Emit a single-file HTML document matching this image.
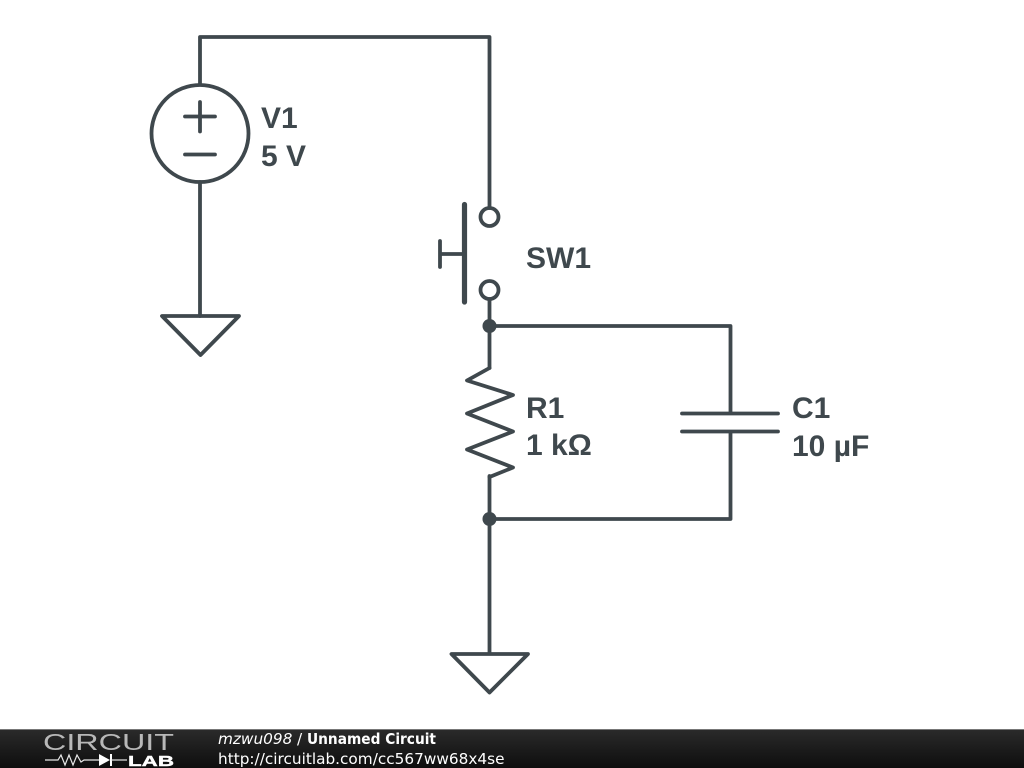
<!DOCTYPE html>
<html>
<head>
<meta charset="utf-8">
<style>
html,body{margin:0;padding:0;background:#fff;width:1024px;height:768px;overflow:hidden}
svg{display:block}
.l{font-family:"Liberation Sans",Arial,sans-serif;font-weight:bold;font-size:30px;fill:#3f484d}
.f{font-family:"DejaVu Sans",sans-serif;font-size:15.3px;fill:#fff}
</style>
</head>
<body>
<svg width="1024" height="768" viewBox="0 0 1024 768" xmlns="http://www.w3.org/2000/svg">
<defs>
<linearGradient id="g" x1="0" y1="0" x2="0" y2="1">
<stop offset="0" stop-color="#2b2b2b"/>
<stop offset="0.5" stop-color="#1c1c1c"/>
<stop offset="1" stop-color="#0e0e0e"/>
</linearGradient>
</defs>
<rect width="1024" height="768" fill="#fff"/>
<g fill="none" stroke="#3f484d" stroke-width="3.8" stroke-linecap="round" stroke-linejoin="round">
<!-- V1 -->
<path d="M200 84V37H489.500V208"/>
<circle cx="200" cy="133.500" r="48.500"/>
<path d="M200 102V131.500M185 116.500H215M185 154.500H215"/>
<path d="M200 182V316"/>
<path d="M162 316H239L200.500 355Z"/>
<!-- SW1 -->
<circle cx="489.500" cy="217" r="9"/>
<circle cx="489.500" cy="290" r="9"/>
<path d="M464.500 204.500V302" stroke-width="5.200"/>
<path d="M440 241V267M440 254H464"/>
<path d="M489.500 299V368"/>
<!-- wires -->
<path d="M489.500 326H730.500V413"/>
<path d="M730.500 432V519H489.500"/>
<path d="M489.500 476V653"/>
<!-- R1 -->
<path d="M489.500 368L467 380.500L513 395L467 413.500L513 431.500L467 449.500L513 467.500L489.500 477"/>
<!-- C1 -->
<path d="M682 413.500H778M682 431.500H778"/>
<!-- GND -->
<path d="M451.500 654H528L489.500 692.500Z"/>
</g>
<circle cx="489.500" cy="326" r="7" fill="#3f484d"/>
<circle cx="489.500" cy="519" r="7" fill="#3f484d"/>
<text class="l" x="261" y="128">V1</text>
<text class="l" x="261" y="166">5 V</text>
<text class="l" x="526" y="268">SW1</text>
<text class="l" x="526" y="418">R1</text>
<text class="l" x="526" y="455">1 kΩ</text>
<text class="l" x="792" y="418">C1</text>
<text class="l" x="792" y="456">10 µF</text>
<!-- footer -->
<rect x="0" y="729" width="1024" height="39" fill="url(#g)"/>
<rect x="0" y="729" width="1024" height="1" fill="#777"/>
<text x="43" y="750" font-family="'Liberation Sans',sans-serif" font-size="23.500" fill="#b8b8b8" textLength="131" lengthAdjust="spacingAndGlyphs">CIRCUIT</text>
<path d="M45 760H58L61 755L65 765L69 755L73 765L77 755L81 762L84 760H99" fill="none" stroke="#e8e8e8" stroke-width="1.200"/>
<path d="M99 754V766L110 760Z" fill="#fff"/>
<path d="M111 754V766" stroke="#fff" stroke-width="2"/>
<path d="M111 760H127" stroke="#e8e8e8" stroke-width="1.200"/>
<text x="128" y="766" font-family="'Liberation Sans',sans-serif" font-weight="bold" font-size="15" fill="#fff" stroke="#fff" stroke-width="0.400" textLength="46" lengthAdjust="spacingAndGlyphs">LAB</text>
<text class="f" x="218" y="744" font-style="italic">mzwu098</text>
<text class="f" x="297" y="744">/</text>
<text class="f" x="307" y="744" font-weight="bold" textLength="129" lengthAdjust="spacingAndGlyphs">Unnamed Circuit</text>
<text class="f" x="218" y="764">http://circuitlab.com/cc567ww68x4se</text>
</svg>
</body>
</html>
